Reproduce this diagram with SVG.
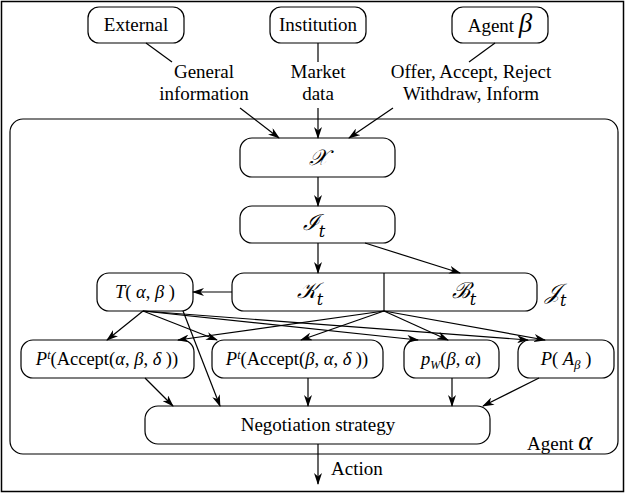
<svg xmlns="http://www.w3.org/2000/svg" width="627" height="495" viewBox="0 0 627 495">
<defs>
<marker id="ah" markerWidth="12" markerHeight="8" refX="11" refY="4" orient="auto" markerUnits="userSpaceOnUse">
<path d="M0,0 L12,4 L0,8 L3.5,4 z" fill="#000"/>
</marker>
<style>
.b{fill:#fff;stroke:#000;stroke-width:1.2}
.t{font-family:"Liberation Serif","Times New Roman",serif;font-size:19px;fill:#000}
.m{font-family:"Liberation Serif","Times New Roman",serif;font-size:18.5px;fill:#000}
.i{font-style:italic}
.c{font-family:"DejaVu Serif","Liberation Serif",serif;font-style:italic;font-size:22px}
.l{stroke:#000;stroke-width:1.2;fill:none}
.a{stroke:#000;stroke-width:1.2;fill:none;marker-end:url(#ah)}
</style>
</defs>
<rect x="1.5" y="1.5" width="622" height="490" fill="#fff" stroke="#000" stroke-width="1.5"/>
<g id="agent-alpha">
<rect class="b" x="10" y="119" width="608" height="335" rx="13"/>
<text class="t" x="527" y="450">Agent <tspan class="i" font-size="27px">α</tspan></text>
</g>
<g id="external">
<rect class="b" x="88" y="7" width="96" height="36" rx="11"/>
<text class="t" x="136" y="31" text-anchor="middle">External</text>
</g>
<g id="institution">
<rect class="b" x="270" y="7" width="96" height="36" rx="11"/>
<text class="t" x="318" y="31" text-anchor="middle">Institution</text>
</g>
<g id="agent-beta">
<rect class="b" x="452" y="7" width="96" height="36" rx="11"/>
<text class="t" x="500" y="32" text-anchor="middle">Agent <tspan class="i" font-size="27px">β</tspan></text>
</g>
<g id="labels">
<text class="t" x="204" y="78" text-anchor="middle">General</text>
<text class="t" x="204" y="100" text-anchor="middle">information</text>
<text class="t" x="318" y="78" text-anchor="middle">Market</text>
<text class="t" x="318" y="100" text-anchor="middle">data</text>
<text class="t" x="471" y="78" text-anchor="middle">Offer, Accept, Reject</text>
<text class="t" x="471" y="100" text-anchor="middle">Withdraw, Inform</text>
<text class="t" x="331" y="475">Action</text>
</g>
<g id="X">
<rect class="b" x="240" y="138" width="155" height="39" rx="12"/>
<text class="c" x="318" y="165" text-anchor="middle">𝒳</text>
</g>
<g id="It">
<rect class="b" x="240" y="206" width="155" height="37" rx="12"/>
<text class="c" x="314" y="230" text-anchor="middle">ℐ<tspan font-size="16px" dy="7">t</tspan></text>
</g>
<g id="KB">
<rect class="b" x="232" y="273" width="305" height="38" rx="12"/>
<line class="l" x1="384" y1="273" x2="384" y2="311"/>
<text class="c" x="310" y="298" text-anchor="middle">𝒦<tspan font-size="16px" dy="7">t</tspan></text>
<text class="c" x="464" y="298" text-anchor="middle">ℬ<tspan font-size="16px" dy="7">t</tspan></text>
<text class="c" x="545" y="299">𝒥<tspan font-size="16px" dy="7">t</tspan></text>
</g>
<g id="T">
<rect class="b" x="97" y="273" width="96" height="38" rx="12"/>
<text class="m" x="145" y="298" text-anchor="middle"><tspan class="i">T</tspan>( <tspan class="i">α</tspan>, <tspan class="i">β</tspan> )</text>
</g>
<g id="PA">
<rect class="b" x="21" y="340" width="173" height="38" rx="12"/>
<text class="m" x="107" y="365" text-anchor="middle"><tspan class="i">P</tspan><tspan class="i" font-size="12px" dy="-6">t</tspan><tspan dy="6">(Accept(</tspan><tspan class="i">α</tspan>, <tspan class="i">β</tspan>, <tspan class="i">δ</tspan> ))</text>
</g>
<g id="PB">
<rect class="b" x="212" y="340" width="171" height="38" rx="12"/>
<text class="m" x="297" y="365" text-anchor="middle"><tspan class="i">P</tspan><tspan class="i" font-size="12px" dy="-6">t</tspan><tspan dy="6">(Accept(</tspan><tspan class="i">β</tspan>, <tspan class="i">α</tspan>, <tspan class="i">δ</tspan> ))</text>
</g>
<g id="pW">
<rect class="b" x="404" y="340" width="95" height="38" rx="12"/>
<text class="m" x="451" y="365" text-anchor="middle"><tspan class="i">p</tspan><tspan class="i" font-size="12px" dy="4">W</tspan><tspan dy="-4">(</tspan><tspan class="i">β</tspan>, <tspan class="i">α</tspan>)</text>
</g>
<g id="PAb">
<rect class="b" x="518" y="340" width="96" height="38" rx="12"/>
<text class="m" x="566" y="365" text-anchor="middle"><tspan class="i">P</tspan>( <tspan class="i">A</tspan><tspan class="i" font-size="13px" dy="4">β</tspan><tspan dy="-4"> )</tspan></text>
</g>
<g id="NS">
<rect class="b" x="145" y="406" width="345" height="38" rx="13"/>
<text class="t" x="318" y="431" text-anchor="middle">Negotiation strategy</text>
</g>
<g id="connectors">
<line class="l" x1="146" y1="43" x2="172" y2="62"/>
<line class="l" x1="318" y1="43" x2="318" y2="62"/>
<line class="l" x1="495" y1="43" x2="469" y2="62"/>
<line class="a" x1="240" y1="108" x2="279" y2="138"/>
<line class="a" x1="318" y1="108" x2="318" y2="138"/>
<line class="a" x1="393" y1="108" x2="349" y2="138"/>
<line class="a" x1="318" y1="177" x2="318" y2="206"/>
<line class="a" x1="318" y1="243" x2="318" y2="273"/>
<line class="a" x1="365" y1="243" x2="460" y2="273"/>
<line class="a" x1="232" y1="292" x2="193" y2="292"/>
<line class="a" x1="143" y1="311" x2="107" y2="340"/>
<line class="a" x1="143" y1="311" x2="217" y2="340"/>
<line class="a" x1="143" y1="311" x2="418" y2="340"/>
<line class="a" x1="143" y1="311" x2="528" y2="340"/>
<line class="a" x1="384" y1="311" x2="178" y2="340"/>
<line class="a" x1="384" y1="311" x2="301" y2="340"/>
<line class="a" x1="384" y1="311" x2="448" y2="340"/>
<line class="a" x1="384" y1="311" x2="545" y2="340"/>
<line class="a" x1="183" y1="311" x2="220" y2="406"/>
<line class="a" x1="145" y1="378" x2="173" y2="406"/>
<line class="a" x1="308" y1="378" x2="308" y2="406"/>
<line class="a" x1="452" y1="378" x2="452" y2="406"/>
<line class="a" x1="539" y1="378" x2="483" y2="406"/>
<line class="a" x1="318" y1="444" x2="318" y2="484"/>
</g>
</svg>
